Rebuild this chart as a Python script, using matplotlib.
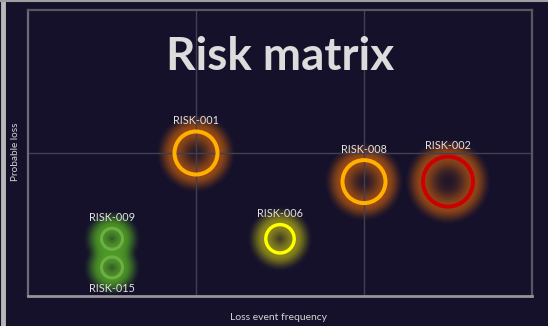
import numpy as np
import matplotlib
matplotlib.use("Agg")
import matplotlib.pyplot as plt
from matplotlib.colors import to_rgb

# ---- data ----
risk_ids = ["RISK-001", "RISK-008", "RISK-002", "RISK-006", "RISK-009", "RISK-015"]
frequency = [1.0, 2.0, 2.5, 1.5, 0.5, 0.5]
prob_loss = [1.0, 0.8, 0.8, 0.4, 0.4, 0.2]
bubble_r = [21.5, 21.5, 25.0, 14.2, 10.5, 10.5]   # ring radius in pixels
level = ["high", "high", "critical", "medium", "low", "low"]
label_side = ["above", "above", "above", "above", "above", "below"]

ring_col = {"critical": "#cc0000", "high": "#ffb000", "medium": "#ffff00", "low": "#70ad47"}
glow_col = {"critical": "#9a4a16", "high": "#a04e14", "medium": "#94901a", "low": "#4e9c26"}

BG = "#15112b"
DPI = 100
W, H = 548, 326
AX_L, AX_R, AX_T, AX_B = 28, 532, 10, 296

fig = plt.figure(figsize=(W / DPI, H / DPI), dpi=DPI, facecolor=BG)
ax = fig.add_axes([AX_L / W, 1 - AX_B / H, (AX_R - AX_L) / W, (AX_B - AX_T) / H])
ax.set_facecolor(BG)
ax.set_xlim(0, 3)
ax.set_ylim(0, 2)
ax.set_xticks([1, 2])
ax.set_yticks([1])
ax.tick_params(length=0, labelbottom=False, labelleft=False)
ax.grid(True, color="#413f52", lw=1.0)
ax.set_axisbelow(True)
for s in ["top", "right"]:
    ax.spines[s].set_color("#57575e")
    ax.spines[s].set_linewidth(1.6)
ax.spines["left"].set_color("#6c6c74")
ax.spines["left"].set_linewidth(1.6)
ax.spines["bottom"].set_color("#959598")
ax.spines["bottom"].set_linewidth(2.0)


def smoothstep(e0, e1, x):
    t = np.clip((x - e0) / (e1 - e0), 0, 1)
    return t * t * (3 - 2 * t)


# ---- glow image computed in pixel space ----
px_w, px_h = AX_R - AX_L, AX_B - AX_T
sx, sy = px_w / 3.0, px_h / 2.0
xx, yy = np.meshgrid(np.arange(px_w) + 0.5, np.arange(px_h) + 0.5)
rgb = np.zeros((px_h, px_w, 3))
rgb[...] = to_rgb(BG)
for f, p, r, lv in zip(frequency, prob_loss, bubble_r, level):
    cx = f * sx
    cy = px_h - p * sy
    d = np.hypot(xx - cx, yy - cy)
    inside = 0.08 + 0.92 * np.exp(-((r - d) / 13.0) ** 2)
    outside = 1 - smoothstep(r + 2, r + 19, d)
    a = np.where(d < r, inside, outside) * 0.92
    c = np.array(to_rgb(glow_col[lv]))
    rgb = rgb * (1 - a[..., None]) + c * a[..., None]
img = np.dstack([rgb, np.ones((px_h, px_w))])
ax.imshow(img, extent=[0, 3, 0, 2], origin="upper", aspect="auto", zorder=0.3,
          interpolation="bilinear")

# ---- rings ----
for f, p, r, lv in zip(frequency, prob_loss, bubble_r, level):
    lw_px = 4.0 if r > 20 else (3.4 if r > 13 else 3.0)
    r_pt = r * 72 / DPI
    ax.scatter([f], [p], s=(2 * r_pt) ** 2, facecolors="none",
               edgecolors=ring_col[lv], linewidths=lw_px * 72 / DPI, zorder=3)

# ---- labels ----
for f, p, r, name, side in zip(frequency, prob_loss, bubble_r, risk_ids, label_side):
    off = (r + 11) * 72 / DPI
    ax.annotate(name, (f, p), xytext=(0, off if side == "above" else -off),
                textcoords="offset points", ha="center", va="center",
                color="#e2e2e2", fontsize=7.8, family="Lato", zorder=4)

ax.text(0.5, 0.835, "Risk matrix", transform=ax.transAxes, ha="center", va="center",
        color="#dcdcdc", fontsize=33, fontweight="bold", family="Lato", zorder=5)

fig.text(15.5 / W, 1 - 152 / H, "Probable loss", rotation=90, ha="center", va="center",
         color="#d4d4d4", fontsize=7.2, family="Lato")
fig.text(278 / W, 1 - 318 / H, "Loss event frequency", ha="center", va="center",
         color="#d4d4d4", fontsize=7.5, family="Lato")

# light frame on left and top edges of figure
fig.add_artist(plt.Line2D([2.5 / W, 2.5 / W], [0, 1], transform=fig.transFigure,
                          color="#b8b8b8", lw=3.5))
fig.add_artist(plt.Line2D([0, 1], [1 - 0.8 / H, 1 - 0.8 / H], transform=fig.transFigure,
                          color="#a0a0a0", lw=1.5))

fig.savefig("out.png", dpi=DPI, facecolor=BG)
